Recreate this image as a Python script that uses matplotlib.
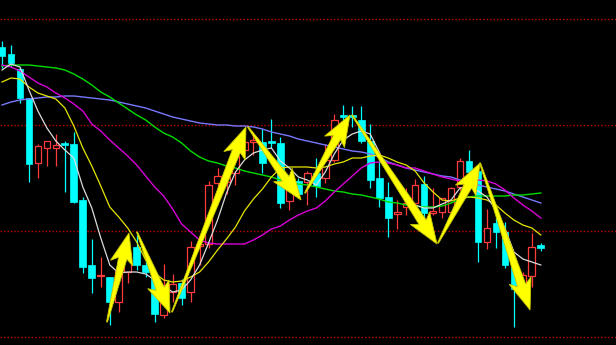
import matplotlib
matplotlib.use("Agg")
import matplotlib.pyplot as plt
import numpy as np
from matplotlib.patches import Polygon

# ---- candle data (price units) ----
opens = [2.98, 2.91, 2.76, 2.47, 1.82, 1.97, 1.97, 2.02, 2.01, 1.45,
         0.80, 0.69, 0.68, 0.43, 0.73, 0.98, 0.80, 0.67, 0.30, 0.53,
         0.62, 0.53, 0.99, 1.01, 1.62, 1.63, 1.72, 1.95, 2.03, 2.03,
         2.04, 2.02, 1.44, 1.64, 1.63, 1.72, 1.67, 1.85, 2.30, 2.30,
         2.25, 2.04, 1.67, 1.48, 1.31, 1.38, 1.42, 1.61, 1.32, 1.33,
         1.33, 1.58, 1.84, 1.74, 1.03, 1.22, 1.13, 0.80, 0.58, 0.69,
         1.00]
closes = [2.89, 2.82, 2.47, 1.81, 1.99, 2.04, 2.00, 2.00, 1.43, 0.78,
          0.67, 0.70, 0.43, 0.75, 0.92, 0.80, 0.73, 0.31, 0.57, 0.61,
          0.47, 0.98, 1.01, 1.60, 1.69, 1.68, 1.89, 2.03, 2.05, 1.82,
          2.02, 1.42, 1.66, 1.51, 1.72, 1.59, 1.85, 2.25, 2.28, 2.28,
          2.04, 1.65, 1.47, 1.27, 1.33, 1.42, 1.60, 1.32, 1.34, 1.47,
          1.57, 1.84, 1.73, 1.03, 1.17, 1.13, 0.80, 0.56, 0.70, 0.98,
          0.97]
highs = [3.04, 3.00, 2.78, 2.47, 2.01, 2.04, 2.11, 2.04, 2.13, 1.48,
         1.06, 0.88, 0.68, 0.77, 0.95, 1.10, 0.85, 0.71, 0.81, 0.71,
         0.66, 1.04, 1.10, 1.64, 1.77, 1.82, 1.95, 2.10, 2.10, 2.16,
         2.26, 2.08, 1.68, 1.67, 1.74, 1.87, 2.01, 2.31, 2.40, 2.39,
         2.39, 2.21, 1.85, 1.63, 1.45, 1.57, 1.66, 1.69, 1.57, 1.47,
         1.58, 1.87, 1.95, 1.77, 1.36, 1.27, 1.23, 0.82, 0.73, 1.12,
         1.02]
lows = [2.77, 2.78, 2.42, 1.63, 1.67, 1.79, 1.79, 1.53, 1.42, 0.72,
        0.52, 0.58, 0.20, 0.33, 0.62, 0.75, 0.68, 0.23, 0.27, 0.43,
        0.40, 0.43, 0.80, 0.97, 1.52, 1.51, 1.60, 1.92, 1.90, 1.72,
        1.97, 1.37, 1.35, 1.47, 1.40, 1.48, 1.62, 1.83, 2.25, 2.18,
        2.02, 1.57, 1.38, 1.08, 1.16, 1.30, 1.32, 1.27, 1.30, 1.27,
        1.30, 1.55, 1.72, 0.83, 0.96, 0.97, 0.77, 0.18, 0.57, 0.58,
        0.94]

# ---- moving averages ----
ma5 = [2.75, 2.81, 2.78, 2.55, 2.34, 2.17, 2.04, 1.95, 1.87, 1.58,
       1.37, 1.07, 0.80, 0.72, 0.73, 0.73, 0.71, 0.65, 0.59, 0.53,
       0.55, 0.65, 0.80, 1.02, 1.25, 1.52, 1.73, 1.85, 1.92, 1.95,
       1.97, 1.84, 1.77, 1.68, 1.65, 1.60, 1.73, 1.91, 2.05, 2.11,
       2.14, 2.11, 1.93, 1.73, 1.58, 1.46, 1.40, 1.37, 1.37, 1.41,
       1.45, 1.57, 1.58, 1.54, 1.48, 1.35, 1.17, 0.93, 0.86, 0.83,
       0.80]
ma10 = [2.63, 2.67, 2.66, 2.58, 2.52, 2.49, 2.46, 2.37, 2.19, 1.97,
        1.79, 1.59, 1.38, 1.28, 1.17, 1.03, 0.85, 0.72, 0.65, 0.63,
        0.64, 0.68, 0.73, 0.83, 0.95, 1.06, 1.18, 1.34, 1.46, 1.56,
        1.68, 1.77, 1.78, 1.78, 1.78, 1.77, 1.78, 1.81, 1.83, 1.87,
        1.87, 1.89, 1.90, 1.87, 1.83, 1.80, 1.74, 1.62, 1.53, 1.45,
        1.44, 1.47, 1.48, 1.47, 1.45, 1.40, 1.32, 1.25, 1.20, 1.17,
        1.10]
ma20 = [2.80, 2.78, 2.74, 2.68, 2.62, 2.58, 2.52, 2.47, 2.41, 2.34,
        2.21, 2.14, 2.05, 1.97, 1.89, 1.80, 1.69, 1.58, 1.49, 1.36,
        1.21, 1.13, 1.05, 1.02, 1.01, 1.01, 1.01, 1.01, 1.05, 1.10,
        1.16, 1.19, 1.25, 1.30, 1.34, 1.37, 1.44, 1.53, 1.61, 1.69,
        1.77, 1.82, 1.83, 1.82, 1.80, 1.77, 1.77, 1.74, 1.71, 1.68,
        1.66, 1.64, 1.64, 1.65, 1.64, 1.61, 1.55, 1.47, 1.40, 1.34,
        1.27]
ma30 = [2.79, 2.80, 2.80, 2.80, 2.79, 2.78, 2.77, 2.75, 2.71, 2.66,
        2.60, 2.53, 2.48, 2.42, 2.36, 2.30, 2.25, 2.18, 2.12, 2.08,
        2.02, 1.94, 1.88, 1.84, 1.82, 1.79, 1.77, 1.74, 1.72, 1.70,
        1.68, 1.65, 1.63, 1.61, 1.60, 1.58, 1.56, 1.54, 1.53, 1.51,
        1.50, 1.48, 1.46, 1.43, 1.42, 1.40, 1.39, 1.38, 1.38, 1.39,
        1.42, 1.46, 1.48, 1.49, 1.49, 1.49, 1.49, 1.50, 1.50, 1.51,
        1.52]
ma60 = [2.40, 2.43, 2.45, 2.46, 2.47, 2.48, 2.48, 2.49, 2.49, 2.48,
        2.47, 2.46, 2.45, 2.43, 2.41, 2.39, 2.37, 2.34, 2.31, 2.28,
        2.26, 2.24, 2.22, 2.21, 2.20, 2.20, 2.19, 2.19, 2.18, 2.16,
        2.13, 2.11, 2.09, 2.06, 2.04, 2.02, 2.00, 1.98, 1.96, 1.94,
        1.93, 1.91, 1.88, 1.83, 1.80, 1.77, 1.75, 1.73, 1.71, 1.69,
        1.68, 1.65, 1.63, 1.60, 1.58, 1.56, 1.54, 1.51, 1.48, 1.45,
        1.42]

grid_levels = [3.26, 2.20, 1.14, 0.08]

# annotation arrows: (start index, start price, end index, end price)
arrow_start_x = [11.69, 15.03, 18.93, 27.39, 33.74, 38.98, 48.55, 53.23]
arrow_start_y = [0.23, 1.13, 0.33, 2.18, 1.52, 2.30, 1.02, 1.82]
arrow_end_x = [14.14, 18.71, 27.17, 33.30, 38.75, 48.44, 53.23, 58.80]
arrow_end_y = [1.12, 0.32, 2.18, 1.45, 2.30, 1.01, 1.82, 0.35]

UP = "#ff3b3b"
DOWN = "#00ffff"

fig = plt.figure(figsize=(6.16, 3.45), dpi=100, facecolor="black")
ax = fig.add_axes([0, 0, 1, 1])
ax.set_facecolor("black")
ax.set_xlim(-0.223, 68.37)
ax.set_ylim(0.0, 3.45)
ax.axis("off")

for g in grid_levels:
    ax.axhline(g, color="#c00000", lw=1.0, ls=(0, (1.0, 1.5)), zorder=1)

x = np.arange(len(opens))
o = np.array(opens); c = np.array(closes); h = np.array(highs); l = np.array(lows)
up = c >= o
w = 0.75

# wicks
ax.vlines(x[up], l[up], h[up], color=UP, lw=0.9, zorder=2)
ax.vlines(x[~up], l[~up], h[~up], color=DOWN, lw=0.9, zorder=2)

# bodies
body_bottom = np.minimum(o, c)
body_h = np.maximum(np.abs(c - o), 0.012)
ax.bar(x[up], body_h[up], bottom=body_bottom[up], width=w,
       facecolor="black", edgecolor=UP, linewidth=0.9, zorder=3)
ax.bar(x[~up], body_h[~up], bottom=body_bottom[~up], width=w,
       facecolor=DOWN, edgecolor=DOWN, linewidth=0.5, zorder=3)

# moving averages
ax.plot(x, ma60, color="#7878ff", lw=1.0, zorder=4)
ax.plot(x, ma30, color="#00dd00", lw=1.0, zorder=4)
ax.plot(x, ma20, color="#d800d8", lw=1.0, zorder=4)
ax.plot(x, ma10, color="#e6e600", lw=0.9, zorder=4)
ax.plot(x, ma5, color="#dcdcdc", lw=0.9, zorder=4)

# tapered yellow arrows (drawn in pixel space)
fig.canvas.draw()
T = ax.transData
for sx, sy, ex, ey in zip(arrow_start_x, arrow_start_y, arrow_end_x, arrow_end_y):
    S = np.array(T.transform((sx, sy)))
    E = np.array(T.transform((ex, ey)))
    d = E - S
    L = np.hypot(*d)
    u = d / L
    n = np.array([-u[1], u[0]])
    hl, hw, ws, tw = 26.0, 23.0, 8.5, 1.0
    base = S + u * (L - hl)
    barb = S + u * (L - hl - 5)
    pts = [S + n * tw / 2,
           base + n * ws / 2,
           barb + n * hw / 2,
           E,
           barb - n * hw / 2,
           base - n * ws / 2,
           S - n * tw / 2]
    poly = Polygon(pts, closed=True, transform=None, facecolor="#ffff00",
                   edgecolor="#c8c800", linewidth=0.6, zorder=6)
    fig.add_artist(poly)

fig.savefig("out.png", dpi=100, facecolor="black")
